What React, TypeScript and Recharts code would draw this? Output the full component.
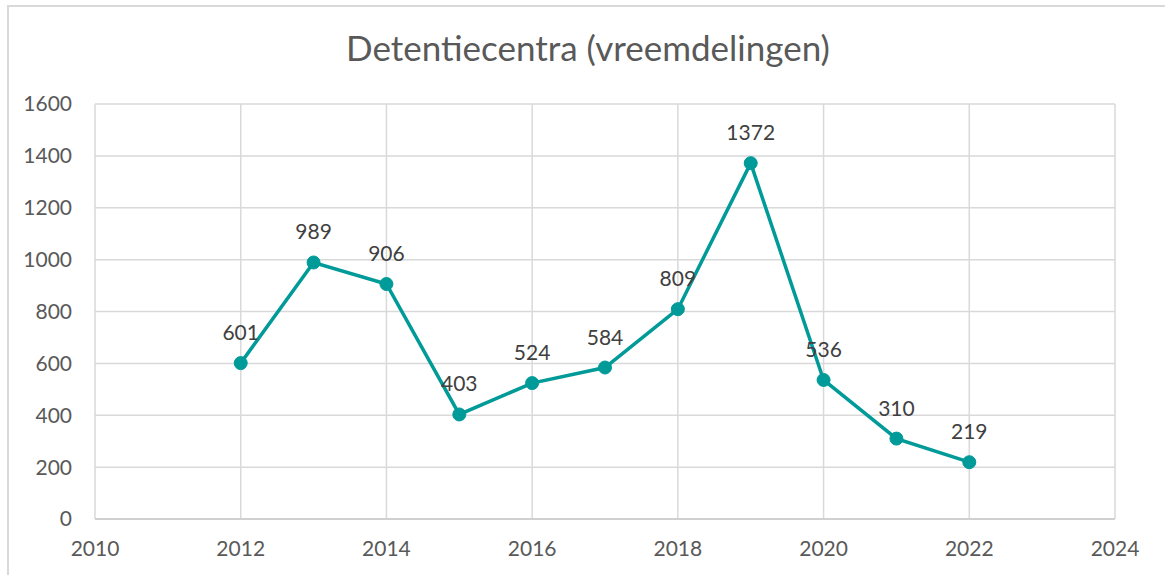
import React from 'react';
import { LineChart, Line, XAxis, YAxis, CartesianGrid, LabelList } from 'recharts';

const years = [2012, 2013, 2014, 2015, 2016, 2017, 2018, 2019, 2020, 2021, 2022];
const values = [601, 989, 906, 403, 524, 584, 809, 1372, 536, 310, 219];
const xTicks = [2010, 2012, 2014, 2016, 2018, 2020, 2022, 2024];
const yTicks = [0, 200, 400, 600, 800, 1000, 1200, 1400, 1600];
const title = 'Detentiecentra (vreemdelingen)';

const data = years.map((y, i) => ({ year: y, value: values[i] }));

const FONT = 'Lato, "Open Sans", sans-serif';

export default function App() {
  return (
    <div style={{ position: 'absolute', left: 0, top: 0, width: 1165, height: 575, overflow: 'hidden', background: '#fff', fontFamily: FONT }}>
      <div style={{ position: 'absolute', left: 7, top: 5, width: 1158, height: 570, borderTop: '2px solid #d9d9d9', borderLeft: '2px solid #d9d9d9', boxSizing: 'border-box' }} />
      <div style={{ position: 'absolute', left: 288, width: 600, top: 26, textAlign: 'center', fontSize: 35, color: '#595959', lineHeight: '42px' }}>{title}</div>
      <div style={{ position: 'absolute', left: 0, top: 0 }}>
        <LineChart width={1165} height={575} data={data} margin={{ top: 104, right: 50, bottom: 16, left: 35 }}>
          <CartesianGrid stroke="#d9d9d9" strokeWidth={1.5} />
          <XAxis
            dataKey="year"
            type="number"
            domain={[2010, 2024]}
            ticks={xTicks}
            height={40}
            axisLine={{ stroke: '#d0d0d0', strokeWidth: 2 }}
            tickLine={false}
            tickSize={0}
            tickMargin={22}
            tick={{ fill: '#595959', fontSize: 21, fontFamily: FONT }}
          />
          <YAxis
            type="number"
            domain={[0, 1600]}
            ticks={yTicks}
            width={60}
            axisLine={false}
            tickLine={false}
            tickSize={0}
            tickMargin={23}
            tick={{ fill: '#595959', fontSize: 21, fontFamily: FONT }}
          />
          <Line
            dataKey="value"
            stroke="#009a99"
            strokeWidth={3.5}
            dot={{ r: 6.5, fill: '#009a99', stroke: '#009a99', strokeWidth: 1 }}
            isAnimationActive={false}
          >
            <LabelList dataKey="value" position="top" offset={23} fill="#404040" fontSize={21} fontFamily={FONT} />
          </Line>
        </LineChart>
      </div>
    </div>
  );
}
